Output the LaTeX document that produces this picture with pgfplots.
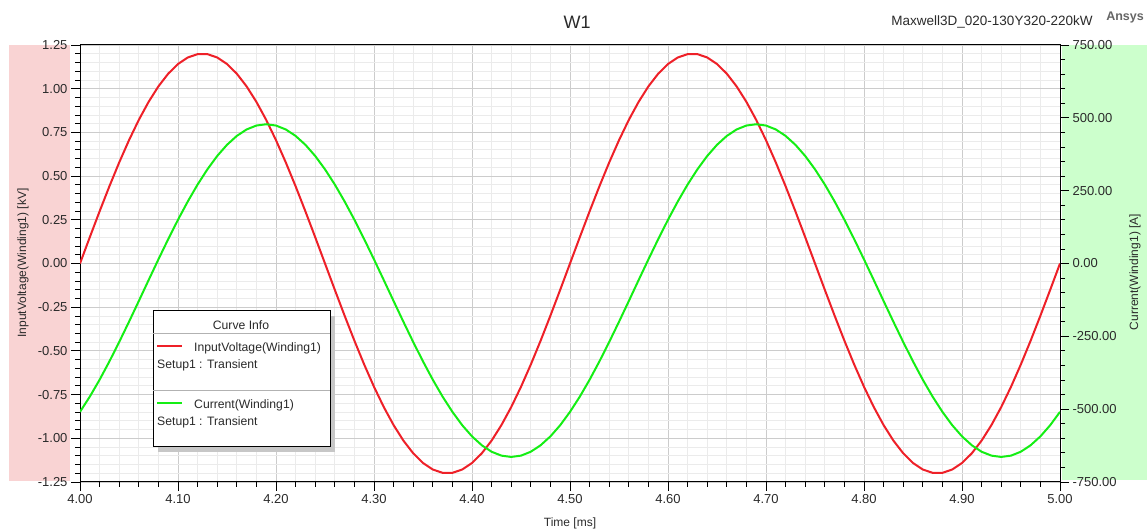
\documentclass[border=0pt]{standalone}
\usepackage{fontspec}
\setmainfont{Liberation Sans}
\usepackage{pgfplots}
\usepackage{pgfplotstable}
\pgfplotsset{compat=1.18}

\definecolor{vred}{HTML}{EE2028}
\definecolor{igreen}{HTML}{14EE14}
\definecolor{leftband}{HTML}{F9D3D3}
\definecolor{rightband}{HTML}{CCFFCC}
\definecolor{txt}{HTML}{2A2A2A}

% time [ms], input voltage [kV], current [A]
\pgfplotstableread{
t V I
4.00 0 -509.2
4.01 0.1504 -457.0
4.02 0.2984 -399.0
4.03 0.4417 -336.1
4.04 0.5781 -269.5
4.05 0.7053 -200.0
4.06 0.8215 -128.9
4.07 0.9246 -57.1
4.08 1.0132 14.0
4.09 1.0858 83.5
4.10 1.1413 150.1
4.11 1.1787 213.0
4.12 1.1976 271.0
4.13 1.1976 323.2
4.14 1.1787 369.0
4.15 1.1413 407.4
4.16 1.0858 437.9
4.17 1.0132 460.1
4.18 0.9246 473.5
4.19 0.8215 478.0
4.20 0.7053 473.5
4.21 0.5781 460.1
4.22 0.4417 437.9
4.23 0.2984 407.4
4.24 0.1504 369.0
4.25 0 323.2
4.26 -0.1504 271.0
4.27 -0.2984 213.0
4.28 -0.4417 150.1
4.29 -0.5781 83.5
4.30 -0.7053 14.0
4.31 -0.8215 -57.1
4.32 -0.9246 -128.9
4.33 -1.0132 -200.0
4.34 -1.0858 -269.5
4.35 -1.1413 -336.1
4.36 -1.1787 -399.0
4.37 -1.1976 -457.0
4.38 -1.1976 -509.2
4.39 -1.1787 -555.0
4.40 -1.1413 -593.4
4.41 -1.0858 -623.9
4.42 -1.0132 -646.1
4.43 -0.9246 -659.5
4.44 -0.8215 -664.0
4.45 -0.7053 -659.5
4.46 -0.5781 -646.1
4.47 -0.4417 -623.9
4.48 -0.2984 -593.4
4.49 -0.1504 -555.0
4.50 0 -509.2
4.51 0.1504 -457.0
4.52 0.2984 -399.0
4.53 0.4417 -336.1
4.54 0.5781 -269.5
4.55 0.7053 -200.0
4.56 0.8215 -128.9
4.57 0.9246 -57.1
4.58 1.0132 14.0
4.59 1.0858 83.5
4.60 1.1413 150.1
4.61 1.1787 213.0
4.62 1.1976 271.0
4.63 1.1976 323.2
4.64 1.1787 369.0
4.65 1.1413 407.4
4.66 1.0858 437.9
4.67 1.0132 460.1
4.68 0.9246 473.5
4.69 0.8215 478.0
4.70 0.7053 473.5
4.71 0.5781 460.1
4.72 0.4417 437.9
4.73 0.2984 407.4
4.74 0.1504 369.0
4.75 0 323.2
4.76 -0.1504 271.0
4.77 -0.2984 213.0
4.78 -0.4417 150.1
4.79 -0.5781 83.5
4.80 -0.7053 14.0
4.81 -0.8215 -57.1
4.82 -0.9246 -128.9
4.83 -1.0132 -200.0
4.84 -1.0858 -269.5
4.85 -1.1413 -336.1
4.86 -1.1787 -399.0
4.87 -1.1976 -457.0
4.88 -1.1976 -509.2
4.89 -1.1787 -555.0
4.90 -1.1413 -593.4
4.91 -1.0858 -623.9
4.92 -1.0132 -646.1
4.93 -0.9246 -659.5
4.94 -0.8215 -664.0
4.95 -0.7053 -659.5
4.96 -0.5781 -646.1
4.97 -0.4417 -623.9
4.98 -0.2984 -593.4
4.99 -0.1504 -555.0
5.00 0 -509.2
}\winding

\pgfplotsset{
  scopestyle/.style={
    at={(80pt,50pt)}, anchor=south west, scale only axis,
    width=980pt, height=437pt,
    xmin=4, xmax=5,
    tick align=outside,
    major tick length=9pt, minor tick length=5pt,
    tick style={black, line width=0.8pt},
    axis line style={black, line width=1pt},
    /pgf/number format/assume math mode=true,
    /pgf/number format/fixed,
    /pgf/number format/fixed zerofill,
    /pgf/number format/precision=2,
    ticklabel style={font=\fontsize{13}{15}\selectfont, text=txt},
  }
}

\begin{document}
\begin{tikzpicture}[x=1pt,y=1pt]
\useasboundingbox (0pt,0pt) rectangle (1147pt,532pt);
% side bands behind the two value axes
\fill[leftband] (9pt,51pt) rectangle (70pt,487pt);
\fill[rightband] (1062pt,52pt) rectangle (1147pt,487pt);

% voltage axis (left) with the grid
\begin{axis}[
  scopestyle,
  ymin=-1.25, ymax=1.25,
  xtick={4,4.1,4.2,4.3,4.4,4.5,4.6,4.7,4.8,4.9,5},
  ytick={-1.25,-1,-0.75,-0.5,-0.25,0,0.25,0.5,0.75,1,1.25},
  minor x tick num=4, minor y tick num=4,
  grid=both,
  major grid style={draw=black!20, line width=0.8pt},
  minor grid style={draw=black!8, line width=0.8pt},
  tick pos=left,
]
\addplot[vred, line width=2pt] table[x=t, y=V]{\winding};
\end{axis}

% current axis (right)
\begin{axis}[
  scopestyle,
  ymin=-750, ymax=750,
  axis y line*=right, axis x line=none,
  ytick={-750,-500,-250,0,250,500,750},
  minor y tick num=4,
]
\addplot[igreen, line width=2pt] table[x=t, y=I]{\winding};
\end{axis}

% titles and axis labels
\node[text=txt, font=\fontsize{18}{20}\selectfont] at (577pt,510pt) {W1};
\node[text=txt, font=\fontsize{13.5}{15}\selectfont] at (992pt,510pt) {Maxwell3D\_020-130Y320-220kW};
\node[text=black!60, font=\fontsize{12.5}{14}\selectfont\bfseries] at (1125pt,514pt) {Ansys};
\node[text=txt, font=\fontsize{12}{14}\selectfont] at (570pt,9pt) {Time [ms]};
\node[text=txt, rotate=90, font=\fontsize{12}{14}\selectfont] at (23pt,269pt) {InputVoltage(Winding1) [kV]};
\node[text=txt, rotate=90, font=\fontsize{12}{14}\selectfont] at (1135pt,260pt) {Current(Winding1) [A]};

% curve info box
\fill[black!22] (158pt,80pt) rectangle (335pt,216pt);
\filldraw[fill=white, draw=black, line width=1pt] (153pt,85pt) rectangle (330pt,221pt);
\draw[black!30, line width=0.8pt] (153pt,199pt) -- (330pt,199pt);
\draw[black!30, line width=0.8pt] (153pt,142pt) -- (330pt,142pt);
\begin{scope}[every node/.style={inner sep=0pt, text=txt, font=\fontsize{12.2}{14}\selectfont}]
\node at (241pt,207pt) {Curve Info};
\draw[vred, line width=2pt] (157pt,186pt) -- (182pt,186pt);
\node[anchor=west] at (194pt,184pt) {InputVoltage(Winding1)};
\node[anchor=west] at (157pt,167pt) {Setup1 : Transient};
\draw[igreen, line width=2pt] (157pt,129pt) -- (182pt,129pt);
\node[anchor=west] at (194pt,127pt) {Current(Winding1)};
\node[anchor=west] at (157pt,110pt) {Setup1 : Transient};
\end{scope}
\end{tikzpicture}
\end{document}
